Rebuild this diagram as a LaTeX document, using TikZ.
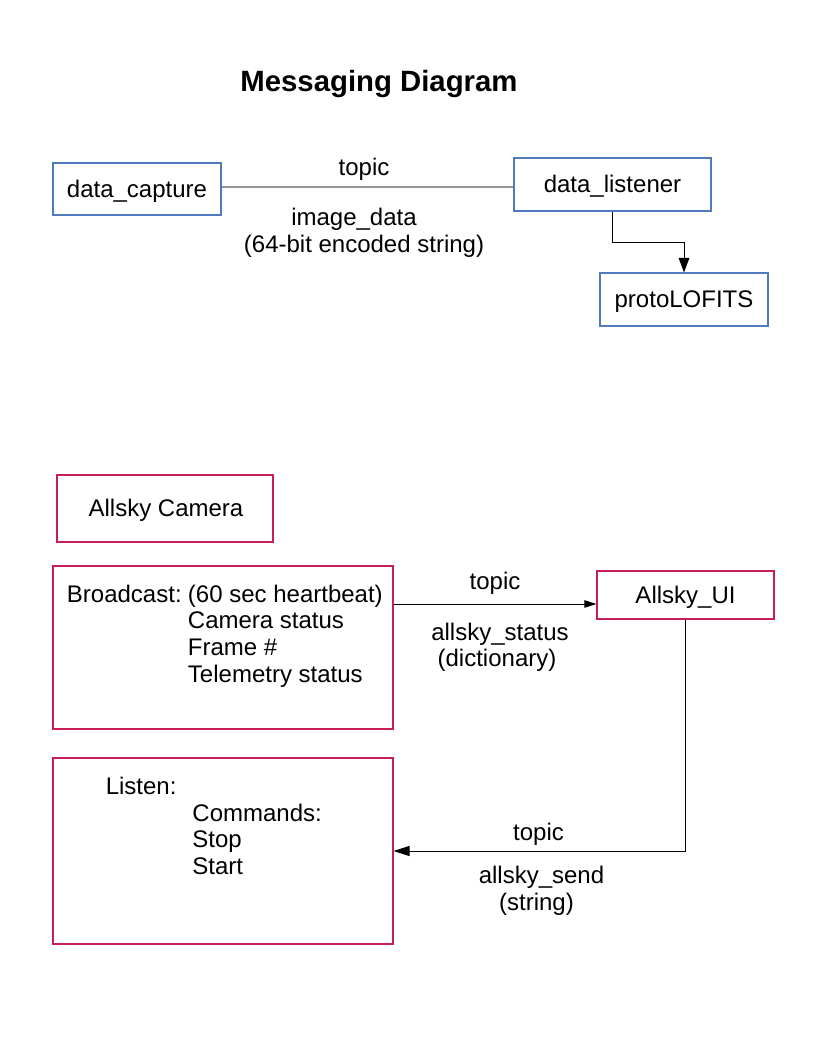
\documentclass[tikz,border=0pt]{standalone}
\usepackage{fontspec}
\setmainfont{Liberation Sans}
\usepackage{xcolor}
\usepackage{tikz}
\usetikzlibrary{arrows.meta, calc}
\definecolor{boxblue}{RGB}{79,123,190}
\definecolor{crimson}{RGB}{201,30,84}
\definecolor{wiregray}{RGB}{90,90,90}

\begin{document}
\begin{tikzpicture}[
    x=0.75pt, y=-0.75pt,
    font=\fontsize{18}{20}\selectfont,
    bluebox/.style={rectangle, draw=boxblue, line width=0.8pt, inner sep=0pt, text height=16pt, text depth=4pt},
    redbox/.style={rectangle, draw=crimson, line width=0.8pt, inner sep=0pt, text height=16pt, text depth=4pt},
    lbl/.style={inner sep=0pt, text height=16pt, text depth=4pt},
    block/.style={inner sep=0pt, anchor=base west},
    arrow/.style={-{Triangle[length=12pt, width=7.5pt]}, line width=0.75pt},
    wire/.style={wiregray, line width=0.9pt}
]
\useasboundingbox (0,0) rectangle (816,1056);

% Title
\node[lbl, font=\bfseries\fontsize{22}{26}\selectfont, text height=19.7pt, text depth=4pt] (title) at (379,81) {Messaging Diagram};

% Image data path
\node[bluebox, minimum width=126pt, minimum height=39pt] (capture) at (137,189) {data\_capture};
\node[bluebox, minimum width=147.75pt, minimum height=39.75pt] (listener) at (612.5,184.5) {data\_listener};
\node[bluebox, minimum width=126pt, minimum height=39.75pt] (lofits) at (684,299.5) {protoLOFITS};

\node[lbl] (imgtopic) at (364,167) {topic};
\node[lbl] (imgname) at (354,217) {image\_data};
\node[lbl] (imgtype) at (364,244) {(64-bit encoded string)};

\draw[wire] ([yshift=1.5pt]capture.east) -- ([yshift=-1.9pt]listener.west);
\draw[arrow, -{Triangle[length=11pt, width=8pt]}] (listener.south) -- ++(0,31) -| (lofits.north);

% Allsky camera
\node[redbox, minimum width=162pt, minimum height=50.25pt] (camera) at (165,508.5) {\hspace*{1.5pt}Allsky Camera};
\node[redbox, minimum width=255pt, minimum height=122.25pt] (broadcast) at (223,647.5) {};
\node[redbox, minimum width=255pt, minimum height=139.5pt] (listen) at (223,851) {};
\node[redbox, minimum width=132.75pt, minimum height=36pt] (ui) at (685.5,595) {Allsky\_UI};

\node[block] (bcasttext) at (66.7,602) {\begin{tabular}[t]{@{}l@{}}
\makebox[90.75pt][l]{Broadcast:}(60 sec heartbeat)\\
\hspace*{90.75pt}Camera status\\
\hspace*{90.75pt}Frame \#\\
\hspace*{90.75pt}Telemetry status
\end{tabular}};
\node[block] (listentext) at (105.5,794.5) {\begin{tabular}[t]{@{}l@{}}
Listen:\\
\hspace*{65pt}Commands:\\
\hspace*{65pt}Stop\\
\hspace*{65pt}Start
\end{tabular}};

\node[lbl] (stattopic) at (495,581) {topic};
\node[lbl] (statname) at (500,632) {allsky\_status};
\node[lbl] (stattype) at (497,658) {(dictionary)};

\node[lbl] (sendtopic) at (538.5,832) {topic};
\node[lbl] (sendname) at (541.5,875) {allsky\_send};
\node[lbl] (sendtype) at (536.5,902) {(string)};

% Arrows
\coordinate (uiin) at ([yshift=-6.75pt]ui.west);
\draw[arrow, -{Triangle[length=9pt, width=5.5pt]}] (broadcast.east |- uiin) -- (uiin);
\draw[arrow] (ui.south) |- (listen.east);

\end{tikzpicture}
\end{document}
